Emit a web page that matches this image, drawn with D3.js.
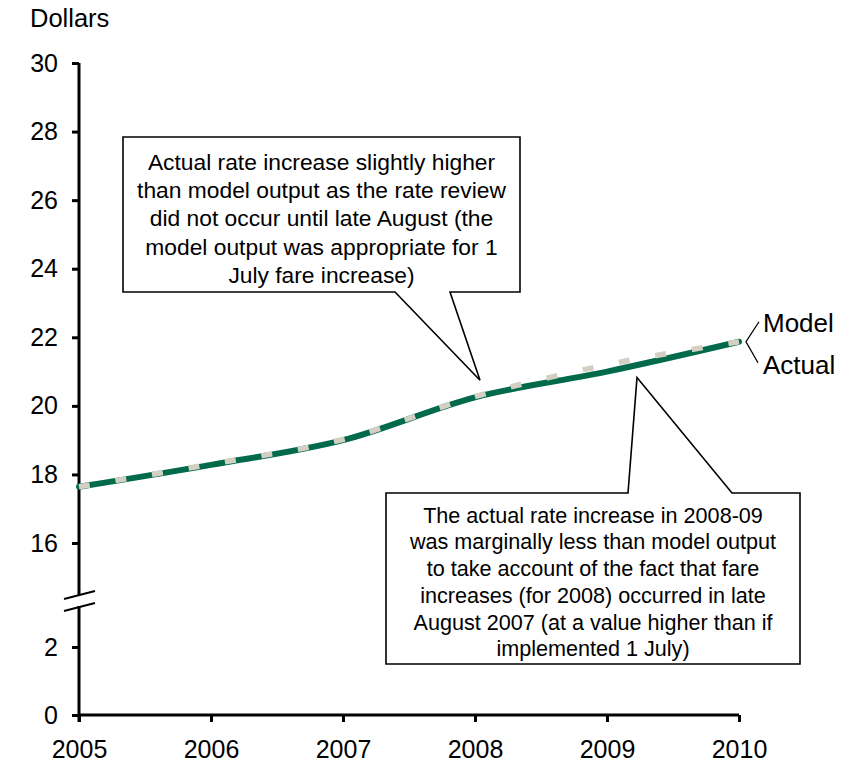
<!DOCTYPE html>
<html>
<head>
<meta charset="utf-8">
<script src="https://cdn.jsdelivr.net/npm/d3@7"></script>
<style>
  html, body { margin: 0; padding: 0; background: #fff; }
  svg { display: block; font-family: "Liberation Sans", Arial, sans-serif; }
</style>
</head>
<body>
<svg id="chart" width="851" height="762"></svg>
<script>
// Average fare per year, dollars
const years = [2005, 2006, 2007, 2008, 2009, 2010];
const actualFare = [17.64, 18.28, 19.0, 20.25, 21.0, 21.87];
const modelFare = [17.64, 18.3, 19.02, 20.27, 21.2, 21.87];

// Axis ticks (the value axis is broken between 3 and 15)
const yTicks = [0, 2, 16, 18, 20, 22, 24, 26, 28, 30];
const yBreak = [3, 15];

const seriesNames = ["Model", "Actual"];
const yTitle = "Dollars";

const noteHigher = [
  "Actual rate increase slightly higher",
  "than model output as the rate review",
  "did not occur until late August (the",
  "model output was appropriate for 1",
  "July fare increase)"
];
const noteLower = [
  "The actual rate increase in 2008-09",
  "was marginally less than model output",
  "to take account of the fact that fare",
  "increases (for 2008) occurred in late",
  "August 2007 (at a value higher than if",
  "implemented 1 July)"
];

const svg = d3.select("#chart");

const x = d3.scaleLinear().domain([2005, 2010]).range([79, 739]);
// piecewise scale: lower segment 0-3, upper segment 15-30
const y = d3.scaleLinear()
  .domain([0, yBreak[0], yBreak[1], 30])
  .range([715, 613, 577.3, 63]);

const axisColor = "#000";
const tickFont = 25;

// Y axis
const yAxis = svg.append("g")
  .attr("transform", `translate(${x(2005)},0)`)
  .call(d3.axisLeft(y).tickValues(yTicks).tickSize(7).tickSizeOuter(0).tickPadding(14));
yAxis.select(".domain").attr("stroke", axisColor).attr("stroke-width", 3)
  .attr("d", `M0,${y(30)}V${y(0) + 7}`);
yAxis.selectAll(".tick line").attr("stroke", axisColor).attr("stroke-width", 3);
yAxis.selectAll(".tick text")
  .attr("font-size", tickFont).attr("fill", "#000")
  .attr("font-family", "'Liberation Sans', Arial, sans-serif");

// X axis
const xAxis = svg.append("g")
  .attr("transform", `translate(0,${y(0)})`)
  .call(d3.axisBottom(x).tickValues(years).tickFormat(d3.format("d")).tickSize(7).tickSizeOuter(0).tickPadding(18));
xAxis.select(".domain").attr("stroke", axisColor).attr("stroke-width", 3)
  .attr("d", `M${x(2005)},0H${x(2010)}`);
xAxis.selectAll(".tick line").attr("stroke", axisColor).attr("stroke-width", 3);
xAxis.selectAll(".tick text")
  .attr("font-size", tickFont).attr("fill", "#000")
  .attr("font-family", "'Liberation Sans', Arial, sans-serif");

// Axis break: gap in the axis line and two slashes
const breakMid = 600;
svg.append("rect")
  .attr("x", x(2005) - 4).attr("y", breakMid - 5)
  .attr("width", 8).attr("height", 11)
  .attr("fill", "#fff");
[-6, 6].forEach(off => {
  svg.append("line")
    .attr("x1", x(2005) - 15).attr("y1", breakMid + off + 5)
    .attr("x2", x(2005) + 16).attr("y2", breakMid + off - 3)
    .attr("stroke", "#000").attr("stroke-width", 2);
});

// Title
svg.append("text")
  .attr("x", 30).attr("y", 27)
  .attr("font-size", 25.5).attr("fill", "#000")
  .text(yTitle);

// Series lines
const line = d3.line()
  .x((d, i) => x(years[i]))
  .y(d => y(d))
  .curve(d3.curveCatmullRom.alpha(0));

svg.append("path")
  .datum(actualFare)
  .attr("d", line)
  .attr("fill", "none")
  .attr("stroke", "#006a4b")
  .attr("stroke-width", 6)
  .attr("stroke-linecap", "round");

svg.append("path")
  .datum(modelFare)
  .attr("d", line)
  .attr("fill", "none")
  .attr("stroke", "#d3d0c3")
  .attr("stroke-width", 5.5)
  .attr("stroke-dasharray", "11,26")
  .attr("stroke-dashoffset", 0);

// Series labels with leader lines
const endX = x(2010), endY = y(actualFare[actualFare.length - 1]);
const leadV = [endX + 7, endY];
svg.append("path")
  .attr("d", `M${leadV[0] + 13},${endY - 20}L${leadV[0]},${leadV[1]}L${leadV[0] + 12},${endY + 21}`)
  .attr("fill", "none").attr("stroke", "#000").attr("stroke-width", 1.3);
const labelFont = 26;
svg.append("text")
  .attr("x", 763).attr("y", 322.7 + 0.358 * labelFont)
  .attr("font-size", labelFont).attr("fill", "#000").text(seriesNames[0]);
svg.append("text")
  .attr("x", 763).attr("y", 364.3 + 0.358 * labelFont)
  .attr("font-size", labelFont).attr("fill", "#000").text(seriesNames[1]);

// Callouts
function callout(box, base, tip, edge, lines, fontSize, firstCenter, lineGap) {
  const [x0, y0, x1, y1] = box;
  let d;
  if (edge === "bottom") {
    d = `M${x0},${y0}H${x1}V${y1}H${base[1]}L${tip[0]},${tip[1]}L${base[0]},${y1}H${x0}Z`;
  } else {
    d = `M${x0},${y0}H${base[0]}L${tip[0]},${tip[1]}L${base[1]},${y0}H${x1}V${y1}H${x0}Z`;
  }
  svg.append("path").attr("d", d)
    .attr("fill", "#fff").attr("stroke", "#000").attr("stroke-width", 1.6)
    .attr("stroke-linejoin", "miter");
  const cx = (x0 + x1) / 2;
  svg.append("g").selectAll("text").data(lines).join("text")
    .attr("x", cx)
    .attr("y", (d, i) => firstCenter + i * lineGap + 0.358 * fontSize)
    .attr("text-anchor", "middle")
    .attr("font-size", fontSize)
    .attr("fill", "#000")
    .text(d => d);
}

callout([123, 137, 520, 292], [395, 450], [480, y(20.25) - 17], "bottom",
  noteHigher, 22.8, 161.7, 28.3);
callout([386, 493, 800, 664], [628, 732], [637, y(21.0) + 6], "top",
  noteLower, 21.6, 515, 26.7);
</script>
</body>
</html>
